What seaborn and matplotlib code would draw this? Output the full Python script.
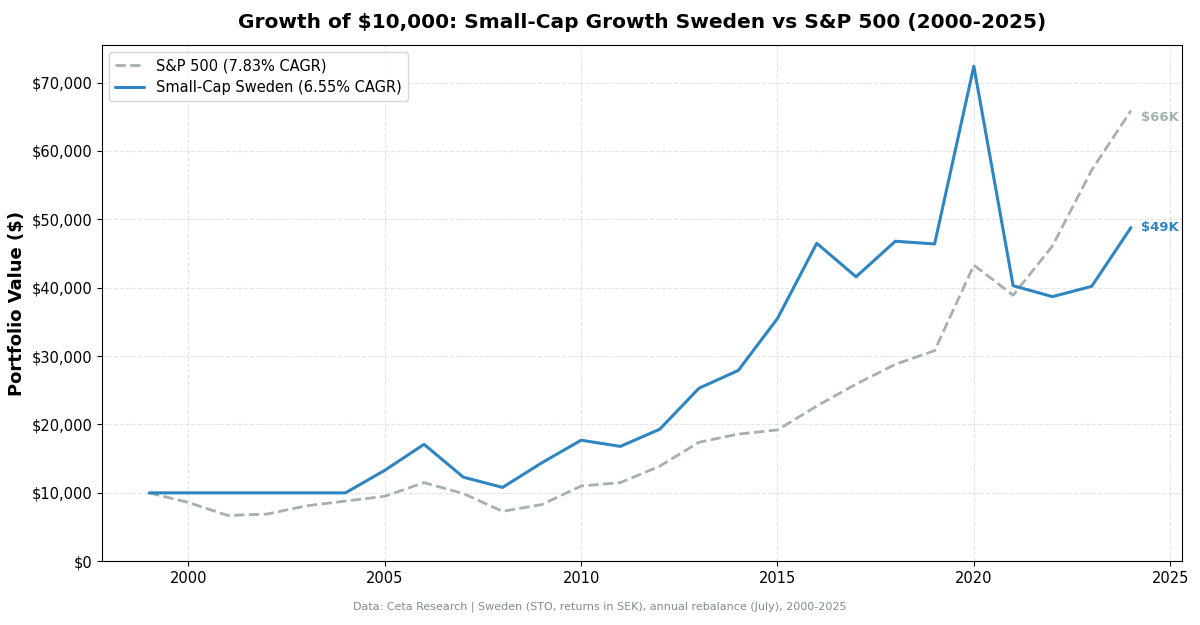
import matplotlib
matplotlib.use("Agg")
import matplotlib.pyplot as plt
import seaborn as sns
import pandas as pd
from matplotlib.ticker import FuncFormatter

years = list(range(1999, 2025))
sp500 = [10000, 8600, 6700, 6900, 8100, 8800, 9500, 11500, 9900, 7300, 8300, 11000, 11500,
         13900, 17400, 18600, 19200, 22700, 25900, 28800, 30800, 43300, 38900, 46100, 57200, 65900]
smallcap = [10000, 10000, 10000, 10000, 10000, 10000, 13300, 17100, 12300, 10800, 14400, 17700, 16800,
            19300, 25300, 27900, 35500, 46500, 41600, 46800, 46400, 72400, 40300, 38700, 40200, 48800]

sns.set_style("white")
plt.rcParams['font.family'] = ['DejaVu Sans']
plt.rcParams['text.color'] = 'black'
plt.rcParams['axes.labelcolor'] = 'black'
plt.rcParams['xtick.color'] = 'black'
plt.rcParams['ytick.color'] = 'black'
fig, ax = plt.subplots(figsize=(12, 6.25), dpi=100)
df = pd.DataFrame({"year": years, "sp": sp500, "sc": smallcap})
sns.lineplot(data=df, x="year", y="sp", ax=ax, color="#a5b1b0", lw=2, linestyle="--", label="S&P 500 (7.83% CAGR)")
sns.lineplot(data=df, x="year", y="sc", ax=ax, color="#2e86c1", lw=2.2, label="Small-Cap Sweden (6.55% CAGR)")
ax.text(years[-1] + 0.25, sp500[-1], f"${sp500[-1]/1000:.0f}K", color="#a5b1b0", fontweight="bold", va="top", fontsize=9.5)
ax.text(years[-1] + 0.25, smallcap[-1], f"${smallcap[-1]/1000:.0f}K", color="#2e86c1", fontweight="bold", va="center", fontsize=9.5)
ax.set_xlim(1997.8, 2025.3)
ax.set_ylim(0, 75500)
ax.yaxis.set_major_formatter(FuncFormatter(lambda v, p: f"${v:,.0f}"))
ax.set_xlabel("")
ax.set_ylabel("Portfolio Value ($)", fontsize=13, fontweight="bold")
ax.set_title("Growth of $10,000: Small-Cap Growth Sweden vs S&P 500 (2000-2025)", fontsize=14.5, fontweight="bold", pad=12)
ax.grid(True, linestyle="--", alpha=0.5)
ax.tick_params(labelsize=10.5, left=True, bottom=True)
for s in ax.spines.values():
    s.set_color("black")
ax.legend(loc="upper left", fontsize=10.5)
fig.text(0.5, 0.025, "Data: Ceta Research | Sweden (STO, returns in SEK), annual rebalance (July), 2000-2025",
         ha="center", fontsize=8, color="#7f8c8d")
plt.subplots_adjust(left=0.085, right=0.985, top=0.928, bottom=0.102)
fig.savefig("out.png")
